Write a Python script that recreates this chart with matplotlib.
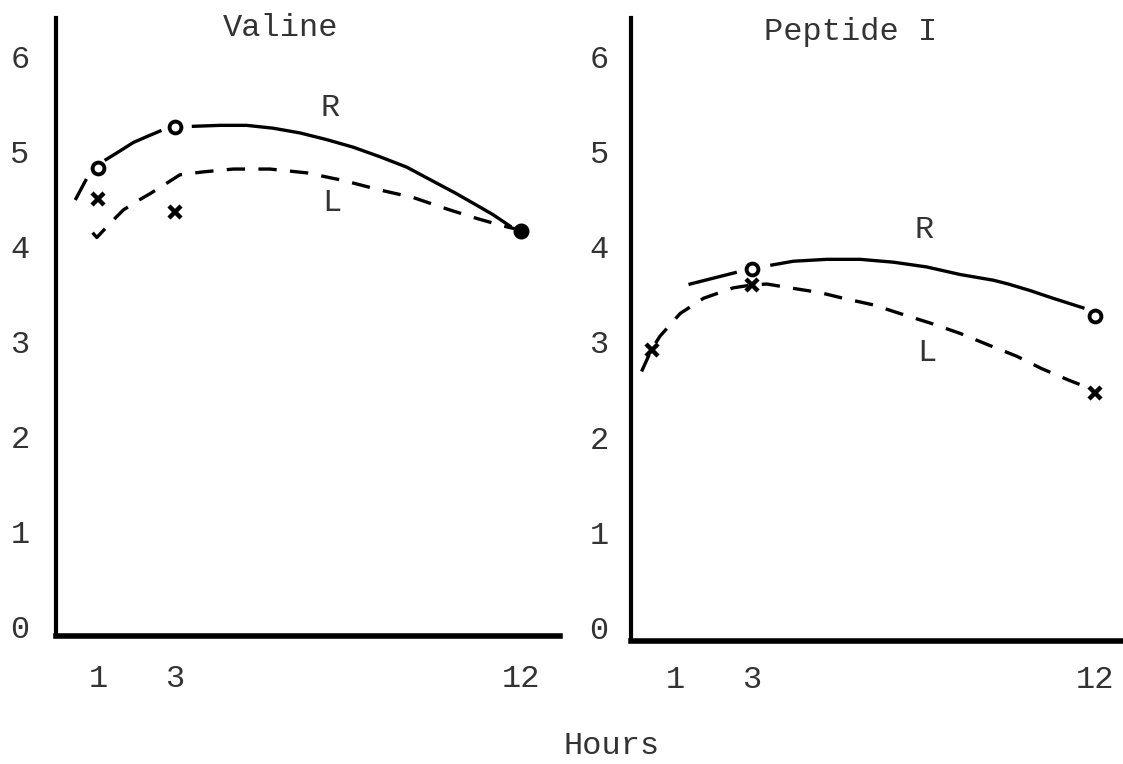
import numpy as np
import matplotlib.pyplot as plt

nan = np.nan

hour_ticks = [1, 3, 12]
value_ticks = [0, 1, 2, 3, 4, 5, 6]

# Valine: measured points
val_r_hours = [1, 3]
val_r_vals = [4.83, 5.26]
val_l_hours = [1, 3]
val_l_vals = [4.51, 4.37]
val_end_hours = [12]
val_end_vals = [4.17]

# Valine: hand-drawn trend curves (nan = break in the pen line)
val_r_curve_h = [0.43, 0.68, nan, 1.21, 1.57, 1.92, 2.26, 2.61, nan, 3.48, 4.17, 4.86, 5.55,
                 6.25, 6.94, 7.63, 8.32, 9.02, 9.62, 10.27, 10.92, 11.26, 11.7]
val_r_curve = [4.51, 4.70, nan, 4.92, 5.01, 5.10, 5.16, 5.22, nan, 5.27, 5.28, 5.28, 5.25,
               5.20, 5.13, 5.05, 4.95, 4.84, 4.71, 4.57, 4.42, 4.34, 4.22]
val_l_curve_h = [0.86, 0.97, 1.39, 1.66, 2.05, 2.35, 2.78, 3.13, 3.73, 4.51, 5.47, 6.42, 7.37,
                 8.32, 9.19, 10.06, 10.84, 11.53, 11.85]
val_l_curve = [4.15, 4.10, 4.28, 4.39, 4.49, 4.56, 4.67, 4.76, 4.79, 4.82, 4.82, 4.78, 4.70,
               4.60, 4.52, 4.40, 4.30, 4.22, 4.19]

# Peptide I: measured points
pep_r_hours = [3, 12]
pep_r_vals = [3.77, 3.27]
pep_l_hours = [0.4, 3, 12]
pep_l_vals = [2.92, 3.60, 2.46]

# Peptide I: trend curves
pep_r_curve_h = [1.39, 2.57, nan, 3.53, 4.09, 4.97, 5.84, 6.71, 7.58, 8.46, 9.33, 9.72,
                 10.3, 10.89, 11.67]
pep_r_curve = [3.61, 3.73, nan, 3.81, 3.85, 3.87, 3.87, 3.84, 3.79, 3.71, 3.65, 3.61,
               3.54, 3.46, 3.36]
pep_l_curve_h = [0.12, 0.38, 0.6, 1.13, 1.74, 2.52, 3.0, 3.4, 4.0, 4.79, 5.4, 6.19, 6.88,
                 7.67, 8.46, 9.19, 9.94, 10.59, 11.29, 11.86]
pep_l_curve = [2.69, 2.92, 3.06, 3.30, 3.46, 3.57, 3.60, 3.61, 3.57, 3.52, 3.46, 3.39, 3.30,
               3.20, 3.09, 2.97, 2.85, 2.72, 2.60, 2.51]

W, H = 1123, 764
plt.rcParams['font.family'] = ['Liberation Mono', 'DejaVu Sans Mono']
txt = '#333333'
fs = 23

fig = plt.figure(figsize=(W / 100, H / 100), dpi=100)


def px_axes(l, r, t, b):
    return fig.add_axes([l / W, 1 - b / H, (r - l) / W, (b - t) / H])


ax1 = px_axes(56, 560, 18, 636)
ax2 = px_axes(631, 1123, 18, 641)
ax1.set_xlim(-0.09, 13.0)
ax1.set_ylim(-0.095, 6.41)
ax2.set_xlim(-0.157, 12.72)
ax2.set_ylim(-0.147, 6.41)

lw = 2.4
dash = (0, (5.5, 4.0))
white_o = dict(marker='o', ms=8.5, mfc='white', mec='black', mew=2.8, ls='none', zorder=4)
bold_x = dict(marker='x', ms=8, mec='black', mew=3.2, ls='none', zorder=4)

# Valine panel
ax1.plot(val_r_curve_h, val_r_curve, color='black', lw=lw)
ax1.plot(val_l_curve_h, val_l_curve, color='black', lw=lw, ls=dash)
ax1.plot(val_r_hours, val_r_vals, **white_o)
ax1.plot(val_l_hours, val_l_vals, **bold_x)
ax1.plot(val_end_hours, val_end_vals, marker='o', ms=10.5, color='black', ls='none', zorder=4)
ax1.text(5.75, 6.31, 'Valine', ha='center', va='center', fontsize=fs, color=txt)
ax1.text(7.03, 5.46, 'R', ha='center', va='center', fontsize=fs, color=txt)
ax1.text(7.08, 4.46, 'L', ha='center', va='center', fontsize=fs, color=txt)

# Peptide I panel
ax2.plot(pep_r_curve_h, pep_r_curve, color='black', lw=lw)
ax2.plot(pep_l_curve_h, pep_l_curve, color='black', lw=lw, ls=dash)
ax2.plot(pep_r_hours, pep_r_vals, **white_o)
ax2.plot(pep_l_hours, pep_l_vals, **bold_x)
ax2.text(5.6, 6.26, 'Peptide I', ha='center', va='center', fontsize=fs, color=txt)
ax2.text(7.51, 4.18, 'R', ha='center', va='center', fontsize=fs, color=txt)
ax2.text(7.58, 2.88, 'L', ha='center', va='center', fontsize=fs, color=txt)

for ax, ypad, xpad in [(ax1, 19, 20), (ax2, 16, 17)]:
    for side in ['top', 'right']:
        ax.spines[side].set_visible(False)
    ax.spines['left'].set_linewidth(3.0)
    ax.spines['bottom'].set_linewidth(4.0)
    ax.set_xticks(hour_ticks)
    ax.set_yticks(value_ticks)
    ax.tick_params(axis='y', length=0, pad=ypad, labelsize=fs, labelcolor=txt)
    ax.tick_params(axis='x', length=0, pad=xpad, labelsize=fs, labelcolor=txt)
    ax.patch.set_alpha(0)

fig.text(612 / W, 1 - 746 / H, 'Hours', ha='center', va='center', fontsize=fs, color=txt)

fig.savefig('out.png', dpi=100)
